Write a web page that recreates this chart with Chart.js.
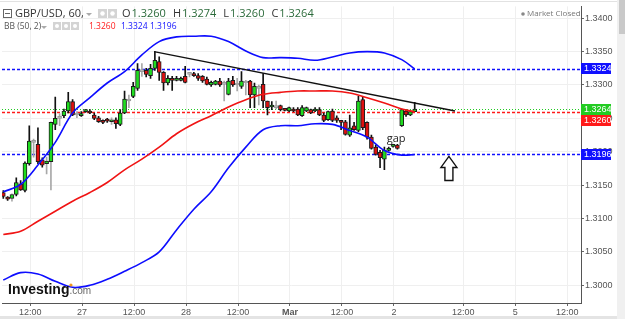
<!DOCTYPE html>
<html>
<head>
<meta charset="utf-8">
<script src="https://cdn.jsdelivr.net/npm/chart.js@4.4.0/dist/chart.umd.min.js"></script>
<style>
  html, body { margin:0; padding:0; background:#fff; }
  #wrap { width:625px; height:319px; }
</style>
</head>
<body>
<div id="wrap"><canvas id="c" width="625" height="319"></canvas></div>
<script>
// GBP/USD, 60 min candles, index 0 = first candle
var opens  = [1.3139,1.3130,1.3130,1.3136,1.3152,1.3142,1.3182,1.3214,1.3211,1.3188,1.3182,1.3185,1.3241,1.3250,1.3254,1.3261,
              1.3275,1.3257,1.3254,1.3260,1.3261,1.3255,1.3251,1.3247,1.3247,1.3245,1.3248,1.3241,1.3258,1.3276,1.3283,1.3295,
              1.3320,1.3322,1.3314,1.3325,1.3335,1.3319,1.3303,1.3310,1.3307,1.3307,1.3313,1.3316,1.3317,1.3314,1.3313,1.3309,
              1.3300,1.3301,1.3306,1.3303,1.3286,1.3307,1.3300,1.3298,1.3303,1.3306,1.3285,1.3297,1.3301,1.3276,1.3267,1.3267,
              1.3269,1.3263,1.3261,1.3264,1.3264,1.3254,1.3261,1.3263,1.3261,1.3263,1.3255,1.3248,1.3261,1.3251,1.3245,1.3245,
              1.3225,1.3239,1.3232,1.3278,1.3244,1.3222,1.3207,1.3199,1.3189,1.3202,1.3208,1.3210,1.3239,1.3261,1.3255,1.3260];
var highs  = [1.3142,1.3133,1.3137,1.3161,1.3157,1.3185,1.3239,1.3219,1.3236,1.3191,1.3192,1.3245,1.3282,1.3257,1.3264,1.3289,
              1.3278,1.3260,1.3260,1.3263,1.3263,1.3258,1.3253,1.3248,1.3250,1.3251,1.3251,1.3263,1.3291,1.3285,1.3304,1.3332,
              1.3332,1.3325,1.3331,1.3350,1.3342,1.3320,1.3314,1.3313,1.3313,1.3312,1.3328,1.3318,1.3319,1.3317,1.3314,1.3312,
              1.3306,1.3307,1.3310,1.3306,1.3310,1.3313,1.3310,1.3320,1.3307,1.3307,1.3303,1.3300,1.3317,1.3276,1.3275,1.3276,
              1.3270,1.3264,1.3267,1.3266,1.3266,1.3269,1.3267,1.3264,1.3266,1.3266,1.3258,1.3261,1.3264,1.3254,1.3247,1.3247,
              1.3255,1.3244,1.3283,1.3283,1.3245,1.3225,1.3210,1.3202,1.3207,1.3207,1.3211,1.3211,1.3264,1.3263,1.3261,1.3274];
var lows   = [1.3130,1.3127,1.3126,1.3134,1.3142,1.3140,1.3180,1.3192,1.3182,1.3177,1.3167,1.3143,1.3233,1.3239,1.3251,1.3258,
              1.3254,1.3251,1.3253,1.3259,1.3257,1.3248,1.3244,1.3242,1.3244,1.3241,1.3235,1.3239,1.3257,1.3266,1.3281,1.3292,
              1.3313,1.3312,1.3310,1.3322,1.3307,1.3292,1.3300,1.3292,1.3306,1.3306,1.3303,1.3312,1.3313,1.3307,1.3304,1.3300,
              1.3298,1.3300,1.3298,1.3276,1.3285,1.3298,1.3291,1.3295,1.3285,1.3266,1.3266,1.3270,1.3266,1.3255,1.3263,1.3264,
              1.3261,1.3261,1.3260,1.3260,1.3254,1.3253,1.3260,1.3257,1.3260,1.3254,1.3245,1.3247,1.3245,1.3244,1.3233,1.3225,
              1.3223,1.3232,1.3230,1.3233,1.3219,1.3204,1.3195,1.3176,1.3173,1.3201,1.3207,1.3204,1.3238,1.3253,1.3254,1.3260];
var closes = [1.3133,1.3129,1.3136,1.3154,1.3143,1.3183,1.3216,1.3216,1.3185,1.3180,1.3186,1.3244,1.3250,1.3251,1.3261,1.3275,
              1.3255,1.3255,1.3257,1.3261,1.3258,1.3250,1.3245,1.3244,1.3246,1.3248,1.3242,1.3258,1.3279,1.3278,1.3298,1.3322,
              1.3322,1.3316,1.3325,1.3337,1.3319,1.3303,1.3310,1.3307,1.3310,1.3310,1.3304,1.3317,1.3314,1.3310,1.3306,1.3301,
              1.3304,1.3306,1.3300,1.3301,1.3306,1.3300,1.3301,1.3306,1.3304,1.3285,1.3298,1.3295,1.3276,1.3266,1.3269,1.3266,
              1.3263,1.3262,1.3266,1.3261,1.3255,1.3266,1.3266,1.3258,1.3264,1.3255,1.3247,1.3260,1.3247,1.3247,1.3244,1.3226,
              1.3236,1.3233,1.3276,1.3236,1.3222,1.3205,1.3196,1.3191,1.3202,1.3205,1.3210,1.3205,1.3263,1.3255,1.3260,1.3264];

// candles drawn with grey wicks / grey bodies
var grayWickIdx = [2,7,10,11,13,17,25,29,32,43,51,54,56,59,63];
var grayBodyIdx = [7,13,17,29,32,43,51,54,56,59,63];

// BB (50, 2), read every 4th candle
var bbIndex  = [0,4,8,12,16,20,24,28,32,36,40,44,48,52,56,60,64,68,72,76,80,84,88,92,95];
var bbUpper  = [1.3140,1.3151,1.3180,1.3214,1.3258,1.3281,1.3303,1.3320,1.3345,1.3365,1.3372,1.3373,1.3373,
                1.3365,1.3351,1.3341,1.3341,1.3340,1.3337,1.3342,1.3348,1.3350,1.3348,1.3338,1.3324];
var bbMiddle = [1.3076,1.3081,1.3096,1.3111,1.3126,1.3139,1.3154,1.3173,1.3189,1.3207,1.3227,1.3242,1.3254,
                1.3267,1.3278,1.3286,1.3289,1.3291,1.3291,1.3291,1.3288,1.3281,1.3273,1.3264,1.3260];
var bbLower  = [1.3008,1.3019,1.3017,1.3006,1.2997,1.3000,1.3009,1.3021,1.3034,1.3050,1.3083,1.3114,1.3140,
                1.3176,1.3207,1.3233,1.3239,1.3239,1.3242,1.3241,1.3232,1.3222,1.3202,1.3195,1.3196];

// axis
var xTickPos    = [6.2,18.2,30.2,42.2,54.2,66.2,78.2,90.2,106.2,118.2,130.2];
var xTickLabels = ['12:00','27','12:00','28','12:00','Mar','12:00','2','12:00','5','12:00'];
var yTicks      = [1.3000,1.3050,1.3100,1.3150,1.3200,1.3250,1.3300,1.3350,1.3400];

// price levels on the right axis
var levels      = [1.3324,1.3264,1.3260,1.3196];
var levelColors = ['#1010ff','#22cc22','#ff1a1a','#1010ff'];
var levelDash   = [[3,2],[1,2],[3,2],[3,2]];

// drawn trend line (candle index, price)
var trendX = [34.8,104.3];
var trendY = [1.3350,1.3261];

// notes
var gapNote = {x:90.7, y:1.3220, text:'gap'};
var arrowNote = {x:102.9, top:1.3193, bottom:1.3157};

var header = {sym:'GBP/USD, 60,', ohlc:[['O',opens[95]],['H',highs[95]],['L',lows[95]],['C',closes[95]]]};
var bbText = [['1.3260','#ff1a1a'],['1.3324','#1010ff'],['1.3196','#1010ff']];

var GREEN = '#1fdc1f', RED = '#e01010';

var bodies = opens.map(function(o, i){ return {x:i, y:[o, closes[i]]}; });
var wicks = lows.map(function(l, i){ return {x:i, y:[l, highs[i]]}; });
var bodyFill = opens.map(function(o, i){
  if (grayBodyIdx.indexOf(i) >= 0) return '#bdbdbd';
  return closes[i] >= o ? GREEN : RED;
});
var bodyLine = opens.map(function(o, i){ return grayBodyIdx.indexOf(i) >= 0 ? '#9a9a9a' : '#1c1c1c'; });
var wickFill = lows.map(function(l, i){ return grayWickIdx.indexOf(i) >= 0 ? '#a8a8a8' : '#111'; });

function pts(xs, ys){ return xs.map(function(x, k){ return {x:x, y:ys[k]}; }); }

var FONT = '"Open Sans", "Liberation Sans", Arial, sans-serif';
var AXFONT = '"Liberation Sans", Arial, sans-serif';

function icon(c, x, y, s){
  c.fillStyle = '#d4d4d4';
  c.fillRect(x, y, s, s);
  c.fillStyle = '#fff';
  c.beginPath(); c.arc(x + s/2, y + s/2, s/4, 0, Math.PI*2); c.fill();
}
function caret(c, x, y){
  c.fillStyle = '#aaa';
  c.beginPath(); c.moveTo(x, y); c.lineTo(x+6, y); c.lineTo(x+3, y+3); c.closePath(); c.fill();
}

var deco = {
  id: 'deco',
  beforeDraw: function(chart){
    var c = chart.ctx;
    c.save();
    c.fillStyle = '#fff'; c.fillRect(0, 0, chart.width, chart.height);
    // scrollbar + bottom strip
    c.fillStyle = '#f0f0f0'; c.fillRect(617, 0, 8, 319);
    c.fillStyle = '#c9c9c9'; c.fillRect(619, 0, 6, 34);
    c.fillStyle = '#e4e4e4'; c.fillRect(0, 316, 617, 3);
    c.strokeStyle = '#e2e2e2'; c.lineWidth = 1;
    c.beginPath(); c.moveTo(0, 1.5); c.lineTo(617, 1.5); c.stroke();
    c.restore();
  },
  beforeDatasetsDraw: function(chart){
    var c = chart.ctx, a = chart.chartArea, ys = chart.scales.y;
    c.save();
    levels.forEach(function(v, k){
      var py = Math.round(ys.getPixelForValue(v)) + 0.5;
      c.strokeStyle = levelColors[k];
      c.lineWidth = k === 1 ? 1 : 1.4;
      c.setLineDash(levelDash[k]);
      c.beginPath(); c.moveTo(a.left, py); c.lineTo(a.right, py); c.stroke();
    });
    c.restore();
  },
  afterDraw: function(chart){
    var c = chart.ctx, a = chart.chartArea, xs = chart.scales.x, ys = chart.scales.y;
    c.save();
    // level boxes on the axis
    var prevBottom = -99;
    levels.map(function(v, k){ return {k:k, py:ys.getPixelForValue(v)}; })
      .sort(function(p, q){ return p.py - q.py; })
      .forEach(function(p){
        var top = Math.round(p.py - 5.5);
        if (top < prevBottom) top = prevBottom;
        c.fillStyle = levelColors[p.k];
        c.fillRect(a.right, top, 30, 11);
        c.fillStyle = '#fff';
        c.font = '9px ' + AXFONT;
        c.textBaseline = 'middle'; c.textAlign = 'left';
        c.fillText(levels[p.k].toFixed(4), a.right + 3, top + 6);
        prevBottom = top + 11;
      });

    // header line 1
    c.textBaseline = 'middle'; c.textAlign = 'left';
    c.strokeStyle = '#666'; c.lineWidth = 1;
    c.strokeRect(3.5, 9.5, 8, 8);
    c.beginPath(); c.moveTo(5, 13.5); c.lineTo(10, 13.5); c.stroke();
    c.font = '11px ' + FONT; c.fillStyle = '#333';
    c.fillText(header.sym, 15, 14);
    caret(c, 86, 13);
    icon(c, 98, 9, 9); icon(c, 108, 9, 9);
    var x = 122;
    header.ohlc.forEach(function(p){
      c.fillStyle = '#333'; c.font = '11px ' + FONT;
      c.fillText(p[0], x, 14);
      x += c.measureText(p[0]).width + 1;
      c.fillStyle = '#2b6a3a';
      c.fillText(p[1].toFixed(4), x, 14);
      x += c.measureText(p[1].toFixed(4)).width + 7;
    });
    // header line 2
    c.font = '8.5px ' + FONT; c.fillStyle = '#555';
    c.fillText('BB (50, 2)', 4, 27);
    caret(c, 41, 26);
    icon(c, 53, 22, 8); icon(c, 62, 22, 8); icon(c, 71, 22, 8);
    var bx = [89, 121, 150];
    bbText.forEach(function(t, k){ c.fillStyle = t[1]; c.fillText(t[0], bx[k], 27); });
    // market closed
    c.fillStyle = '#888';
    c.beginPath(); c.arc(523, 14, 1.8, 0, Math.PI*2); c.fill();
    c.fillStyle = '#777'; c.font = '8px ' + FONT;
    c.fillText('Market Closed', 527, 14);

    // gap note
    c.fillStyle = '#222'; c.font = '11px ' + FONT; c.textAlign = 'center';
    c.fillText(gapNote.text, xs.getPixelForValue(gapNote.x), ys.getPixelForValue(gapNote.y));

    // hollow up arrow
    var ax = xs.getPixelForValue(arrowNote.x), at = ys.getPixelForValue(arrowNote.top),
        ab = ys.getPixelForValue(arrowNote.bottom), hh = 11;
    c.strokeStyle = '#111'; c.lineWidth = 1.4;
    c.beginPath();
    c.moveTo(ax, at); c.lineTo(ax + 8, at + hh); c.lineTo(ax + 4, at + hh); c.lineTo(ax + 4, ab);
    c.lineTo(ax - 4, ab); c.lineTo(ax - 4, at + hh); c.lineTo(ax - 8, at + hh); c.closePath();
    c.stroke();

    // watermark
    c.textAlign = 'left'; c.textBaseline = 'alphabetic';
    c.fillStyle = '#111'; c.font = 'bold 14px ' + AXFONT;
    c.fillText('Investing', 8, 294);
    var w = c.measureText('Investing').width;
    c.fillStyle = '#666'; c.font = '10px ' + AXFONT;
    c.fillText('.com', 8 + w, 294);
    c.fillStyle = '#f29a1b';
    c.beginPath(); c.arc(8 + w + 1.5, 285, 1.6, 0, Math.PI*2); c.fill();
    c.restore();
  }
};

new Chart(document.getElementById('c').getContext('2d'), {
  type: 'bar',
  data: {
    datasets: [
      { type:'line', data: pts(trendX, trendY), borderColor:'#111', borderWidth:1.4, pointRadius:0 },
      { type:'line', data: pts(bbIndex, bbUpper), borderColor:'#0d0dff', borderWidth:1.6, pointRadius:0, tension:0.35 },
      { type:'line', data: pts(bbIndex, bbLower), borderColor:'#0d0dff', borderWidth:1.6, pointRadius:0, tension:0.35 },
      { type:'line', data: pts(bbIndex, bbMiddle), borderColor:'#f01414', borderWidth:1.6, pointRadius:0, tension:0.35 },
      { data: bodies, backgroundColor: bodyFill, borderColor: bodyLine, borderWidth:1, borderSkipped:false,
        barThickness:4, grouped:false, minBarLength:2 },
      { data: wicks, backgroundColor: wickFill, barThickness:1, grouped:false, minBarLength:1 }
    ]
  },
  options: {
    responsive: false,
    animation: false,
    devicePixelRatio: 1,
    events: [],
    layout: { padding: { left:2, top:2, right:8, bottom:3 } },
    plugins: { legend: { display:false }, tooltip: { enabled:false } },
    scales: {
      x: {
        type: 'linear', min: -0.3, max: 133.4, offset: false,
        afterBuildTicks: function(s){ s.ticks = xTickPos.map(function(v){ return {value:v}; }); },
        afterFit: function(s){ s.height = 13; },
        grid: { color:'#efefef', tickColor:'#666', tickLength:3, offset:false },
        border: { display:true, color:'#555', width:1 },
        ticks: {
          autoSkip:false, maxRotation:0, padding:1, color:'#555',
          font: function(ctx){ return { size:9, family:AXFONT, weight: xTickLabels[ctx.index] === 'Mar' ? 'bold' : 'normal' }; },
          callback: function(v, i){ return xTickLabels[i]; }
        }
      },
      y: {
        position: 'right', min: 1.29735, max: 1.34177,
        afterBuildTicks: function(s){ s.ticks = yTicks.map(function(v){ return {value:v}; }); },
        afterFit: function(s){ s.width = 36; },
        grid: { color:'#efefef', tickColor:'#666', tickLength:3 },
        border: { display:true, color:'#555', width:1 },
        ticks: { padding:1, color:'#555', font:{ size:9, family:AXFONT },
          callback: function(v){ return v.toFixed(4); } }
      }
    }
  },
  plugins: [deco]
});
</script>
</body>
</html>
